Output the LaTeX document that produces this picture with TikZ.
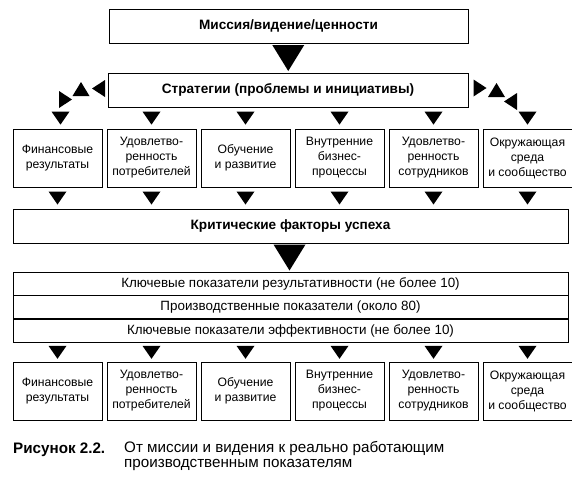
\documentclass[tikz,border=0pt]{standalone}
\usepackage{fontspec}
\setmainfont{Liberation Sans}
\usetikzlibrary{positioning,calc}

\begin{document}
\begin{tikzpicture}[
  x=1pt,y=-1pt,
  font=\fontsize{12.2}{15}\selectfont,
  box/.style={draw,line width=0.8pt,minimum width=89pt,minimum height=58pt,inner sep=1pt,align=center},
  head/.style={draw,line width=0.8pt,minimum height=34pt,font=\bfseries\fontsize{13.6}{16}\selectfont},
  band/.style={draw,line width=0.8pt,minimum width=555pt,minimum height=23pt,inner sep=0pt,font=\fontsize{13.4}{16}\selectfont},
  pics/dtri/.style={code={\fill (-9,-6.5) -- (9,-6.5) -- (0,6.5) -- cycle;}},
  pics/utri/.style={code={\fill (-8.5,7) -- (8.5,7) -- (0,-7) -- cycle;}},
  pics/ltri/.style={code={\fill (6.5,-8.5) -- (6.5,8.5) -- (-6.5,0) -- cycle;}},
  pics/rtri/.style={code={\fill (-6.5,-8.5) -- (-6.5,8.5) -- (6.5,0) -- cycle;}},
  pics/bigtri/.style={code={\fill (-16,-13) -- (16,-13) -- (0,13) -- cycle;}}
]
  \useasboundingbox (0,0) rectangle (572,480);
  \node[head,minimum width=359pt] (mission) at (288.5,26) {Миссия/видение/ценности};
  \node[head,minimum width=360pt] (strat) at (288,90) {Стратегии (проблемы и инициативы)};
  \pic at ($(mission.south)!0.5!(strat.north)$) {bigtri};
  % side arrows round the strategy box
  \pic at (98.5,88.5) {ltri};
  \pic at (81,89) {utri};
  \pic at (65.5,99.5) {rtri};
  \pic at (480,88) {rtri};
  \pic at (496.5,90) {utri};
  \pic at (510.5,101.5) {ltri};
  % first row of perspectives
  \node[box] (f1) at (57.5,158) {Финансовые\\результаты};
  \node[box,right=4.2pt of f1] (f2) {Удовлетво-\\ренность\\потребителей};
  \node[box,right=4.2pt of f2] (f3) {Обучение\\и развитие};
  \node[box,right=4.2pt of f3] (f4) {Внутренние\\бизнес-\\процессы};
  \node[box,right=4.2pt of f4] (f5) {Удовлетво-\\ренность\\сотрудников};
  \node[box,right=4.2pt of f5] (f6) {Окружающая\\среда\\и сообщество};
  \pic at ($(f1.north)+(3,-10.5)$) {dtri};
  \pic at ($(f2.north)+(0,-10.5)$) {dtri};
  \pic at ($(f3.north)+(0,-10.5)$) {dtri};
  \pic at ($(f4.north)+(0,-10.5)$) {dtri};
  \pic at ($(f5.north)+(0,-10.5)$) {dtri};
  \pic at ($(f6.north)+(0,-10.5)$) {dtri};
  \node[head,minimum width=555pt] (csf) at (290.5,226) {Критические факторы успеха};
  \pic at ($(f1.south)!0.5!(f1.south|-csf.north)$) {dtri};
  \pic at ($(f2.south)!0.5!(f2.south|-csf.north)$) {dtri};
  \pic at ($(f3.south)!0.5!(f3.south|-csf.north)$) {dtri};
  \pic at ($(f4.south)!0.5!(f4.south|-csf.north)$) {dtri};
  \pic at ($(f5.south)!0.5!(f5.south|-csf.north)$) {dtri};
  \pic at ($(f6.south)!0.5!(f6.south|-csf.north)$) {dtri};
  % indicator bands
  \node[band] (kri) at (290.5,283.5) {Ключевые показатели результативности (не более 10)};
  \node[band,below=0pt of kri] (pi) {Производственные показатели (около 80)};
  \node[band,below=0pt of pi] (kpi) {Ключевые показатели эффективности (не более 10)};
  \pic at ($(csf.south)!0.5!(csf.south|-kri.north)+(-1,0)$) {bigtri};
  % second row of perspectives
  \node[box] (g1) at (57.5,391) {Финансовые\\результаты};
  \node[box,right=4.2pt of g1] (g2) {Удовлетво-\\ренность\\потребителей};
  \node[box,right=4.2pt of g2] (g3) {Обучение\\и развитие};
  \node[box,right=4.2pt of g3] (g4) {Внутренние\\бизнес-\\процессы};
  \node[box,right=4.2pt of g4] (g5) {Удовлетво-\\ренность\\сотрудников};
  \node[box,right=4.2pt of g5] (g6) {Окружающая\\среда\\и сообщество};
  \pic at ($(g1.north)!0.5!(g1.north|-kpi.south)$) {dtri};
  \pic at ($(g2.north)!0.5!(g2.north|-kpi.south)$) {dtri};
  \pic at ($(g3.north)!0.5!(g3.north|-kpi.south)$) {dtri};
  \pic at ($(g4.north)!0.5!(g4.north|-kpi.south)$) {dtri};
  \pic at ($(g5.north)!0.5!(g5.north|-kpi.south)$) {dtri};
  \pic at ($(g6.north)!0.5!(g6.north|-kpi.south)$) {dtri};
  % caption
  \node[anchor=base west,inner sep=0pt,font=\bfseries\fontsize{15.2}{15}\selectfont] (capnum) at (13,453) {Рисунок 2.2.};
  \node[anchor=north west,inner sep=0pt,align=left,font=\fontsize{15.2}{15.5}\selectfont] (captxt) at (124,441) {От миссии и видения к реально работающим\\производственным показателям};
\end{tikzpicture}
\end{document}
